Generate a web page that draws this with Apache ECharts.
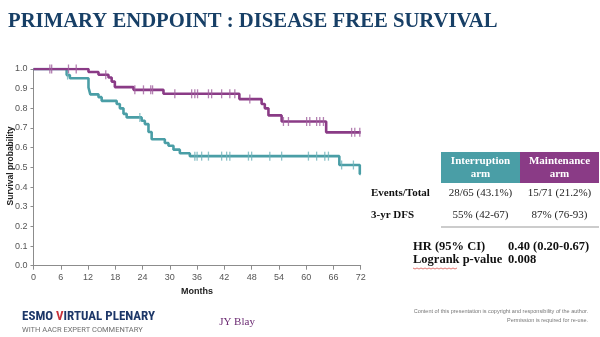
<!DOCTYPE html>
<html>
<head>
<meta charset="utf-8">
<script src="https://cdn.jsdelivr.net/npm/echarts@6/dist/echarts.min.js"></script>
<style>
  html, body { margin: 0; padding: 0; background: #fff; }
  #chart { width: 600px; height: 337px; }
</style>
</head>
<body>
<div id="chart"></div>
<script>
// Kaplan-Meier disease free survival, two arms.
// Each step: [month of event, survival probability after the event]
const interruptionSteps = [
  [0, 1.0], [7.3, 0.969], [8.0, 0.953], [12.1, 0.906], [12.5, 0.871],
  [14.3, 0.857], [15.0, 0.838], [18.3, 0.822], [19.0, 0.800], [19.8, 0.772],
  [20.5, 0.754], [23.8, 0.737], [24.5, 0.720], [25.3, 0.680], [26.0, 0.643],
  [28.9, 0.624], [29.7, 0.610], [30.8, 0.590], [32.2, 0.572], [34.4, 0.557],
  [67.3, 0.512], [71.8, 0.466], [72, 0.466]
];
const maintenanceSteps = [
  [0, 1.0], [12.1, 0.985], [14.3, 0.971], [16.5, 0.957], [17.2, 0.936],
  [17.9, 0.908], [22.0, 0.894], [28.6, 0.874], [45.3, 0.847], [50.2, 0.822],
  [50.9, 0.800], [51.7, 0.764], [54.6, 0.733], [64.4, 0.678], [72, 0.678]
];
// Censored observations (months)
const interruptionCensored = [7.5, 23.4, 35.5, 36.0, 37.0, 38.5, 41.4, 42.5, 43.2,
  47.3, 48.0, 52.0, 54.6, 60.5, 62.3, 64.1, 64.9, 67.8, 70.4];
const maintenanceCensored = [3.6, 4.0, 7.7, 9.4, 15.9, 22.3, 24.2, 25.8, 26.2, 31.1,
  34.8, 35.5, 36.1, 38.5, 39.2, 41.4, 43.2, 44.3, 47.6, 55.0, 56.1, 60.1, 60.8,
  62.3, 63.0, 63.8, 70.0, 70.7, 71.8];

const monthTicks = [0, 6, 12, 18, 24, 30, 36, 42, 48, 54, 60, 66, 72];

const armNames = ['Interruption\narm', 'Maintenance\narm'];
const rowLabels = ['Events/Total', '3-yr DFS'];
const interruptionStats = ['28/65 (43.1%)', '55% (42-67)'];
const maintenanceStats = ['15/71 (21.2%)', '87% (76-93)'];
const hrLabels = ['HR (95% CI)', 'Logrank p-value'];
const hrValues = ['0.40 (0.20-0.67)', '0.008'];

const TEAL = '#4a9ea6';
const PURPLE = '#8a3b86';

// survival level of a step curve at time t
function survivalAt(steps, t) {
  let s = steps[0][1];
  for (const [m, v] of steps) { if (m <= t) s = v; }
  return s;
}
const censorPoints = (steps, times) => times.map(t => [t, survivalAt(steps, t)]);

const serif = 'Liberation Serif';
const sans = 'Liberation Sans';

const chart = echarts.init(document.getElementById('chart'), null, { renderer: 'canvas' });

const tableLeft = 441, colW = 79, headTop = 152, headH = 31;
const graphics = [
  { type: 'text', left: 8, top: 11,
    style: { text: 'PRIMARY ENDPOINT : DISEASE FREE SURVIVAL', font: 'bold 20.7px "' + serif + '"', fill: '#173f66' } },
  { type: 'rect', shape: { x: tableLeft, y: headTop, width: colW, height: headH }, style: { fill: TEAL } },
  { type: 'rect', shape: { x: tableLeft + colW, y: headTop, width: colW, height: headH }, style: { fill: PURPLE } },
  { type: 'line', shape: { x1: tableLeft, y1: 227, x2: tableLeft + 2 * colW, y2: 227 }, style: { stroke: '#9a9a9a', lineWidth: 1.2 } },
  { type: 'text', x: 237, y: 322,
    style: { text: 'JY Blay', font: '11px "' + serif + '"', fill: '#6b2a72', align: 'center', verticalAlign: 'middle' } },
  { type: 'text', x: 22, y: 317,
    style: { text: '{a|ESMO }{b|V}{a|IRTUAL PLENARY}', verticalAlign: 'middle',
      rich: {
        a: { font: 'bold 13px "Roboto Condensed", "Liberation Sans Narrow", Roboto', fill: '#1d3768' },
        b: { font: 'bold 13px "Roboto Condensed", "Liberation Sans Narrow", Roboto', fill: '#c8323a' }
      } } },
  { type: 'text', x: 22, y: 330,
    style: { text: 'WITH AACR EXPERT COMMENTARY', font: '7.5px Roboto', fill: '#6f6f6f', verticalAlign: 'middle' } },
  { type: 'text', x: 588, y: 311,
    style: { text: 'Content of this presentation is copyright and responsibility of the author.', font: '5.5px "' + sans + '"', fill: '#777', align: 'right', verticalAlign: 'middle' } },
  { type: 'text', x: 588, y: 320,
    style: { text: 'Permission is required for re-use.', font: '5.5px "' + sans + '"', fill: '#777', align: 'right', verticalAlign: 'middle' } },
  // rotated y-axis title
  { type: 'text', x: 11, y: 166, rotation: Math.PI / 2,
    style: { text: 'Survival probability', font: 'bold 8.5px "' + sans + '"', fill: '#222', align: 'center', verticalAlign: 'middle' } }
];
armNames.forEach((n, i) => {
  graphics.push({ type: 'text', x: tableLeft + colW * i + colW / 2, y: headTop + headH / 2,
    style: { text: n, font: 'bold 11px "' + serif + '"', fill: '#fff', align: 'center', verticalAlign: 'middle', lineHeight: 13 } });
});
rowLabels.forEach((r, i) => {
  const y = 193 + i * 22;
  graphics.push({ type: 'text', x: 371, y, style: { text: r, font: 'bold 11px "' + serif + '"', fill: '#111', verticalAlign: 'middle' } });
  graphics.push({ type: 'text', x: tableLeft + colW / 2, y, style: { text: interruptionStats[i], font: '11px "' + serif + '"', fill: '#222', align: 'center', verticalAlign: 'middle' } });
  graphics.push({ type: 'text', x: tableLeft + colW * 1.5, y, style: { text: maintenanceStats[i], font: '11px "' + serif + '"', fill: '#222', align: 'center', verticalAlign: 'middle' } });
});
hrLabels.forEach((h, i) => {
  const y = 247 + i * 13;
  graphics.push({ type: 'text', x: 413, y, style: { text: h, font: 'bold 12.5px "' + serif + '"', fill: '#111', verticalAlign: 'middle' } });
  graphics.push({ type: 'text', x: 508, y, style: { text: hrValues[i], font: 'bold 12.5px "' + serif + '"', fill: '#111', verticalAlign: 'middle' } });
});
// red wavy underline under "Logrank"
graphics.push({ type: 'polyline', shape: { points: Array.from({ length: 23 }, (_, k) => [413 + k * 2, 268 + (k % 2)]) },
  style: { stroke: '#d9544f', lineWidth: 0.8, fill: null } });

const option = {
  animation: false,
  grid: { left: 33.5, right: 239.3, top: 69, bottom: 71.3, containLabel: false, outerBoundsMode: 'none' },
  xAxis: {
    type: 'value', min: 0, max: 72, interval: 6,
    name: 'Months', nameLocation: 'middle', nameGap: 20,
    nameTextStyle: { fontFamily: sans, fontWeight: 'bold', fontSize: 9, color: '#222' },
    axisLine: { show: true, lineStyle: { color: '#8c8c8c', width: 1 } },
    axisTick: { show: true, length: 4, lineStyle: { color: '#8c8c8c' } },
    axisLabel: { fontFamily: sans, fontSize: 9, color: '#555', margin: 7,
      formatter: v => monthTicks.includes(v) ? String(v) : '' },
    splitLine: { show: false }
  },
  yAxis: {
    type: 'value', min: 0, max: 1, interval: 0.1,
    axisLine: { show: true, lineStyle: { color: '#8c8c8c', width: 1 } },
    axisTick: { show: true, length: 3, lineStyle: { color: '#8c8c8c' } },
    axisLabel: { fontFamily: sans, fontSize: 9, color: '#555', margin: 6, formatter: v => v.toFixed(1) },
    splitLine: { show: false }
  },
  series: [
    { name: 'Interruption arm', type: 'line', step: 'end', data: interruptionSteps,
      showSymbol: false, lineStyle: { color: TEAL, width: 2.6 }, z: 3 },
    { name: 'Maintenance arm', type: 'line', step: 'end', data: maintenanceSteps,
      showSymbol: false, lineStyle: { color: PURPLE, width: 2.6 }, z: 4 },
    { type: 'scatter', data: censorPoints(interruptionSteps, interruptionCensored),
      symbol: 'rect', symbolSize: [1.3, 9], itemStyle: { color: '#6fb3ba' }, z: 5 },
    { type: 'scatter', data: censorPoints(maintenanceSteps, maintenanceCensored),
      symbol: 'rect', symbolSize: [1.3, 9], itemStyle: { color: '#a0609d' }, z: 6 }
  ],
  graphic: graphics
};
chart.setOption(option);
</script>
</body>
</html>
